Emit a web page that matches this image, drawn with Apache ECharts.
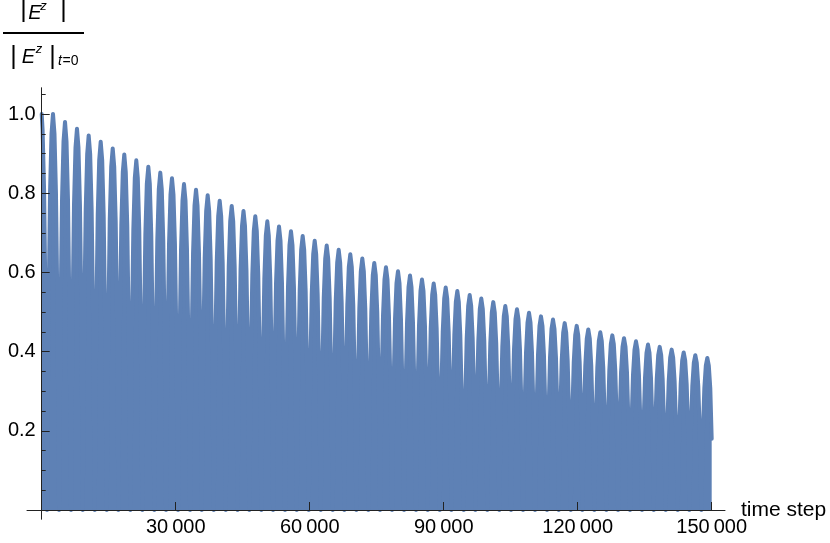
<!DOCTYPE html>
<html>
<head>
<meta charset="utf-8">
<script src="https://cdn.jsdelivr.net/npm/echarts@6/dist/echarts.min.js"></script>
<style>
  html, body { margin: 0; padding: 0; background: #fff; }
  #chart { width: 830px; height: 543px; }
</style>
</head>
<body>
<div id="chart"></div>
<script>
// peak of each hump of the envelope (time step, normalised |E^z|)
const peakSteps = [
  -130, 2530, 5220, 7900, 10520, 13210, 15900, 18490, 21180, 23870,
  26550, 29170, 31860, 34550, 37160, 39850, 42540, 45180, 47820, 50510,
  53130, 55810, 58430, 61120, 63810, 66490, 69090, 71780, 74460, 77080,
  79770, 82460, 85140, 87760, 90450, 93050, 95820, 98420, 101100, 103790,
  106410, 109100, 111780, 114470, 117090, 119780, 122370, 125060, 127750, 130370,
  133050, 135740, 138360, 141040, 143730, 146330, 149020
];
const peakValues = [
  1.010, 1.000, 0.980, 0.963, 0.946, 0.930, 0.913, 0.898, 0.883, 0.867,
  0.852, 0.838, 0.823, 0.809, 0.795, 0.781, 0.768, 0.755, 0.742, 0.729,
  0.716, 0.704, 0.692, 0.680, 0.668, 0.657, 0.646, 0.635, 0.624, 0.613,
  0.603, 0.592, 0.582, 0.572, 0.562, 0.553, 0.543, 0.534, 0.525, 0.515,
  0.507, 0.498, 0.489, 0.481, 0.472, 0.465, 0.456, 0.449, 0.441, 0.434,
  0.426, 0.418, 0.412, 0.405, 0.398, 0.391, 0.384
];
// shape of one hump around its peak: offset in half periods, fraction of the peak
const humpOffsets = [-1, -0.75, -0.5, -0.25, 0, 0.25, 0.5, 0.75];
const humpShape = [0, 0.5, 0.8, 0.95, 1, 0.95, 0.8, 0.5];
const halfPeriod = 1332;
const startValue = 1.0;
const endStep = 150000;
const endValue = 0.18;

const xTicks = [30000, 60000, 90000, 120000, 150000];
const yTicks = [0.2, 0.4, 0.6, 0.8, 1.0];
const yMinorTicks = [0.05, 0.1, 0.15, 0.25, 0.3, 0.35, 0.45, 0.5, 0.55, 0.65, 0.7, 0.75, 0.85, 0.9, 0.95, 1.05];

const blue = "#5e81b5";
const ink = "#222";
const font = "Liberation Sans";

const data = [[0, startValue]];
peakSteps.forEach((p, k) => {
  humpOffsets.forEach((f, j) => {
    const t = p + f * halfPeriod;
    if (t > 0 && t < endStep) data.push([t, peakValues[k] * humpShape[j]]);
  });
});
data.push([endStep, endValue]);

function groupDigits(v) {
  return String(v).replace(/\B(?=(\d{3})+(?!\d))/g, "\u2009");
}

function txt(text, x, y, size, italic, align) {
  return {
    type: "text",
    silent: true,
    style: {
      text: text, x: x, y: y,
      fill: "#000",
      fontSize: size,
      fontFamily: font,
      fontStyle: italic ? "italic" : "normal",
      align: align || "center", verticalAlign: "middle",
      textAlign: align || "center", textVerticalAlign: "middle"
    }
  };
}

// axes cross at the origin, a little inside the grid box
const yAxisBase = {
  type: "value",
  min: -0.0227,
  max: 1.0657,
  position: "left",
  offset: -14.7,
  z: 5,
  axisLine: { show: true, onZero: false, lineStyle: { color: ink, width: 1 } },
  splitLine: { show: false }
};

const chart = echarts.init(document.getElementById("chart"));
chart.setOption({
  animation: false,
  grid: { left: 27, right: 105, top: 88, bottom: 24, outerBoundsMode: "none" },
  xAxis: {
    type: "value",
    min: -3290,
    max: 152980,
    position: "bottom",
    offset: -9,
    z: 5,
    name: "time step",
    nameLocation: "end",
    nameGap: 16,
    nameMoveOverlap: false,
    nameTextStyle: { fontSize: 21, fontFamily: font, color: "#000" },
    axisLine: { onZero: false, lineStyle: { color: ink, width: 1 } },
    axisTick: { inside: true, length: 8, customValues: xTicks, lineStyle: { color: ink, width: 1 } },
    axisLabel: {
      customValues: xTicks, margin: 7, fontSize: 20, fontFamily: font, color: "#000",
      formatter: groupDigits
    },
    splitLine: { show: false }
  },
  yAxis: [
    Object.assign({}, yAxisBase, {
      axisTick: { show: true, inside: true, length: 4, customValues: yMinorTicks, lineStyle: { color: ink, width: 1 } },
      axisLabel: {
        customValues: yTicks, margin: 6, fontSize: 20, fontFamily: font, color: "#000",
        formatter: (v) => v.toFixed(1)
      }
    }),
    Object.assign({}, yAxisBase, {
      axisTick: { show: true, inside: true, length: 8, customValues: yTicks, lineStyle: { color: ink, width: 1 } },
      axisLabel: { show: false }
    })
  ],
  series: [
    {
      type: "line",
      data: data,
      showSymbol: false,
      symbol: "none",
      smooth: false,
      silent: true,
      lineStyle: { color: blue, width: 4, join: "round", cap: "round" },
      itemStyle: { color: blue },
      areaStyle: { color: blue, opacity: 1 },
      emphasis: { disabled: true }
    }
  ],
  graphic: [
    // numerator  |E^z|
    txt("|", 23.5, 10.5, 25, false),
    txt("E", 35, 13, 20, true),
    txt("z", 43.5, 6, 13, true),
    txt("|", 63.5, 10.5, 25, false),
    {
      type: "line",
      silent: true,
      shape: { x1: 3, y1: 33, x2: 84, y2: 33 },
      style: { stroke: "#000", lineWidth: 2 }
    },
    // denominator  |E^z|_{t=0}
    txt("|", 13.5, 57.5, 25, false),
    txt("E", 28.5, 57.5, 20, true),
    txt("z", 39, 49, 13, true),
    txt("|", 52.5, 57.5, 25, false),
    txt("t", 58, 61, 14, true, "left"),
    txt("=0", 62.5, 61, 14, false, "left")
  ]
});
</script>
</body>
</html>
